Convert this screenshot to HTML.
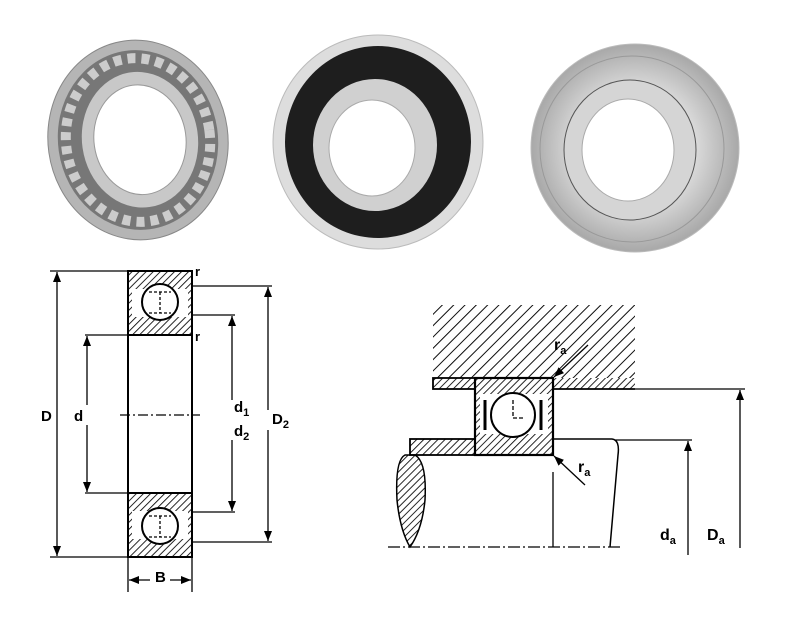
<!DOCTYPE html>
<html><head><meta charset="utf-8"><style>
html,body{margin:0;padding:0;background:#fff;}
svg{display:block}
text{font-family:"Liberation Sans",Arial,sans-serif;font-weight:bold;fill:#000}
</style></head><body>
<svg width="800" height="626" viewBox="0 0 800 626" xmlns="http://www.w3.org/2000/svg">
<defs>
<pattern id="h" width="5" height="5" patternUnits="userSpaceOnUse" patternTransform="rotate(45)">
<line x1="0" y1="0" x2="0" y2="5" stroke="#000" stroke-width="1.7"/></pattern>
<pattern id="h2" width="8" height="8" patternUnits="userSpaceOnUse" patternTransform="rotate(45)">
<line x1="0" y1="0" x2="0" y2="8" stroke="#000" stroke-width="1.9"/></pattern>
<marker id="a" markerWidth="10" markerHeight="8" refX="10" refY="4" orient="auto" markerUnits="userSpaceOnUse">
<path d="M0,0 L10,4 L0,8 z" fill="#000"/></marker>
<radialGradient id="m" cx="50%" cy="50%" r="50%"><stop offset="0.6" stop-color="#d8d8d8"/><stop offset="1" stop-color="#a8a8a8"/></radialGradient>
</defs>

<g transform="rotate(-8 138 140)">
<ellipse cx="138" cy="140" rx="90" ry="100" fill="#b5b5b5" stroke="#888"/>
<ellipse cx="138" cy="140" rx="80" ry="90" fill="#777"/>
<ellipse cx="138" cy="140" rx="72" ry="82" fill="none" stroke="#ccc" stroke-width="10" stroke-dasharray="8 6"/>
<ellipse cx="140" cy="140" rx="58" ry="68" fill="#c8c8c8"/>
<ellipse cx="140" cy="140" rx="46" ry="55" fill="#fff" stroke="#999"/>
</g>
<ellipse cx="378" cy="142" rx="105" ry="107" fill="#ddd" stroke="#bbb"/>
<ellipse cx="378" cy="142" rx="93" ry="96" fill="#1e1e1e"/>
<ellipse cx="375" cy="145" rx="62" ry="66" fill="#d0d0d0"/>
<ellipse cx="372" cy="148" rx="43" ry="48" fill="#fff" stroke="#aaa"/>
<ellipse cx="635" cy="148" rx="104" ry="104" fill="url(#m)" stroke="#bbb"/>
<ellipse cx="632" cy="149" rx="92" ry="93" fill="none" stroke="#999"/>
<ellipse cx="630" cy="150" rx="66" ry="70" fill="#d5d5d5" stroke="#555"/>
<ellipse cx="628" cy="150" rx="46" ry="51" fill="#fff" stroke="#aaa"/>

<g stroke="#000" fill="none" stroke-width="1.3">
<rect x="128" y="271" width="64" height="64" fill="url(#h)" stroke-width="2"/>
<rect x="128" y="493" width="64" height="64" fill="url(#h)" stroke-width="2"/>
<rect x="132" y="289" width="56" height="28" fill="#fff" stroke="none"/>
<rect x="132" y="511" width="56" height="28" fill="#fff" stroke="none"/>
<circle cx="160" cy="302" r="18" fill="#fff" stroke-width="2"/>
<circle cx="160" cy="526" r="18" fill="#fff" stroke-width="2"/>
<path d="M149 292h22M149 313h22M160 292v21M149 516h22M149 537h22M160 516v21" stroke-dasharray="3 2"/>
<path d="M128 335V493M192 335V493" stroke-width="2"/>
<path d="M120 415H200" stroke-dasharray="10 3 2 3"/>
<path d="M50 271H128M50 557H128M85 335H128M85 493H128M192 315H235M192 512H235M192 286H272M192 542H272M128 557V592M192 557V592"/>
<line x1="57" y1="415" x2="57" y2="272" marker-end="url(#a)"/><line x1="57" y1="415" x2="57" y2="556" marker-end="url(#a)"/>
<line x1="87" y1="405" x2="87" y2="336" marker-end="url(#a)"/><line x1="87" y1="425" x2="87" y2="492" marker-end="url(#a)"/>
<line x1="232" y1="400" x2="232" y2="316" marker-end="url(#a)"/><line x1="232" y1="440" x2="232" y2="511" marker-end="url(#a)"/>
<line x1="268" y1="410" x2="268" y2="287" marker-end="url(#a)"/><line x1="268" y1="430" x2="268" y2="541" marker-end="url(#a)"/>
<line x1="150" y1="580" x2="129" y2="580" marker-end="url(#a)"/><line x1="170" y1="580" x2="191" y2="580" marker-end="url(#a)"/>
</g>
<text x="41" y="421" font-size="15">D</text>
<text x="74" y="421" font-size="15">d</text>
<text x="234" y="412" font-size="15">d<tspan font-size="11" dy="4">1</tspan></text>
<text x="234" y="436" font-size="15">d<tspan font-size="11" dy="4">2</tspan></text>
<text x="272" y="424" font-size="15">D<tspan font-size="11" dy="4">2</tspan></text>
<text x="155" y="582" font-size="15">B</text>
<text x="195" y="276" font-size="13">r</text>
<text x="195" y="341" font-size="13">r</text>

<g stroke="#000" fill="none" stroke-width="1.3">
<rect x="433" y="305" width="202" height="73" fill="url(#h2)" stroke="none"/>
<rect x="433" y="378" width="42" height="11" fill="url(#h)" stroke-width="1.8"/>
<rect x="553" y="378" width="82" height="11" fill="url(#h)" stroke="none"/>
<path d="M553 389H635" stroke-width="1.8"/>
<rect x="475" y="378" width="78" height="77" fill="url(#h)" stroke-width="2.2"/>
<rect x="480" y="394" width="68" height="40" fill="#fff" stroke="none"/>
<circle cx="513" cy="415" r="22" fill="#fff" stroke-width="2"/>
<path d="M485 400v30M541 400v30" stroke-width="3"/>
<path d="M513 400v18h10" stroke-dasharray="4 2"/>
<rect x="410" y="439" width="65" height="16" fill="url(#h)" stroke-width="1.8"/>
<path d="M553 439H612Q620 440 618 455L610 547" stroke-width="1.5"/>
<path d="M405 455Q395 460 397 500Q400 530 410 547Q422 530 425 500Q427 462 415 455Z" fill="url(#h)" stroke-width="1.5"/>
<path d="M388 547H622" stroke-dasharray="12 3 2 3"/>
<path d="M553 472V547"/>
<path d="M635 389H745M615 440H692"/>
<line x1="740" y1="548" x2="740" y2="390" marker-end="url(#a)"/>
<line x1="688" y1="555" x2="688" y2="441" marker-end="url(#a)"/>
<line x1="588" y1="345" x2="554" y2="377" marker-end="url(#a)"/>
<line x1="585" y1="485" x2="554" y2="456" marker-end="url(#a)"/>
</g>
<text x="554" y="350" font-size="16">r<tspan font-size="11" dy="4">a</tspan></text>
<text x="578" y="472" font-size="16">r<tspan font-size="11" dy="4">a</tspan></text>
<text x="660" y="540" font-size="16">d<tspan font-size="11" dy="4">a</tspan></text>
<text x="707" y="540" font-size="16">D<tspan font-size="11" dy="4">a</tspan></text>
</svg>
</body></html>
